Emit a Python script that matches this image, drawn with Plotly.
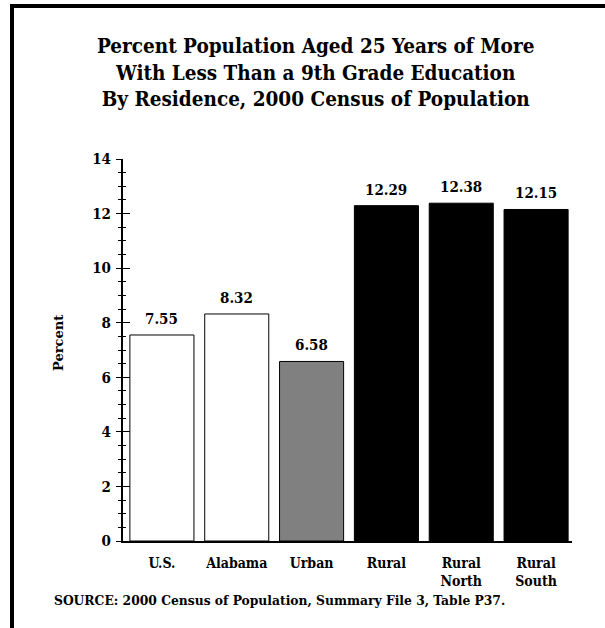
import plotly.graph_objects as go

# Data
categories = ["U.S.", "Alabama", "Urban", "Rural", "Rural<br>North", "Rural<br>South"]
values = [7.55, 8.32, 6.58, 12.29, 12.38, 12.15]
bar_colors = ["white", "white", "#808080", "black", "black", "black"]
y_ticks = [0, 2, 4, 6, 8, 10, 12, 14]

title_lines = [
    "Percent Population Aged 25 Years of More",
    "With Less Than a 9th Grade Education",
    "By Residence, 2000 Census of Population",
]
source_text = "SOURCE: 2000 Census of Population, Summary File 3, Table P37."

SERIF = "DejaVu Serif Condensed, DejaVu Serif, serif"
WIDE_SERIF = "DejaVu Serif, serif"

W, H = 605, 628
L, R, T, B = 123, 33, 159, 87
pw, ph = W - L - R, H - T - B


def px(x):
    return (x - L) / pw


def py(y):
    return (H - B - y) / ph


fig = go.Figure()
fig.add_trace(go.Bar(
    x=list(range(len(categories))),
    y=values,
    marker=dict(color=bar_colors, line=dict(color="black", width=1)),
    width=0.856,
    hoverinfo="skip",
))

# Value labels above each bar
for i, v in enumerate(values):
    fig.add_annotation(
        x=i, y=v, text=f"{v:.2f}", showarrow=False,
        yanchor="bottom", yshift=5,
        font=dict(family=SERIF, size=15, color="black", weight="bold"),
    )

# Title
fig.add_annotation(
    x=px(315), y=py(32), xref="paper", yref="paper",
    text="<br>".join(title_lines), showarrow=False,
    xanchor="center", yanchor="top", align="center",
    font=dict(family=SERIF, size=20.5, color="black", weight="bold"),
)

# Source note
fig.add_annotation(
    x=px(52), y=py(600), xref="paper", yref="paper",
    text=source_text, showarrow=False,
    xanchor="left", yanchor="middle", align="left",
    font=dict(family=SERIF, size=13.7, color="black", weight="bold"),
)

# Y-axis title
fig.add_annotation(
    x=px(58), y=py(343), xref="paper", yref="paper",
    text="Percent", showarrow=False, textangle=-90,
    xanchor="center", yanchor="middle",
    font=dict(family=WIDE_SERIF, size=13, color="black", weight="bold"),
)

# Frame (top and left edges)
fig.add_shape(type="line", xref="paper", yref="paper",
              x0=px(10), x1=px(W + 5), y0=py(6), y1=py(6),
              line=dict(color="black", width=4))
fig.add_shape(type="line", xref="paper", yref="paper",
              x0=px(12), x1=px(12), y0=py(4), y1=py(H + 5),
              line=dict(color="black", width=4))

fig.update_layout(
    width=W, height=H,
    margin=dict(l=L, r=R, t=T, b=B, pad=0),
    paper_bgcolor="white", plot_bgcolor="white",
    showlegend=False,
    xaxis=dict(
        range=[-0.52, 5.48],
        tickmode="array",
        tickvals=list(range(len(categories))),
        ticktext=categories,
        ticks="",
        showgrid=False, zeroline=False,
        showline=True, linecolor="black", linewidth=2,
        tickfont=dict(family=SERIF, size=14, color="black", weight="bold"),
        ticklabelstandoff=8,
    ),
    yaxis=dict(
        range=[0, 14],
        tickmode="array", tickvals=y_ticks,
        ticks="outside", ticklen=5, tickwidth=1, tickcolor="black",
        minor=dict(dtick=0.5, ticks="outside", ticklen=3, tickwidth=1, tickcolor="black"),
        showgrid=False, zeroline=False,
        showline=True, linecolor="black", linewidth=2,
        tickfont=dict(family=SERIF, size=15, color="black", weight="bold"),
        ticklabelstandoff=2,
    ),
    yaxis2=dict(
        overlaying="y", matches="y", side="left",
        range=[0, 14],
        tickmode="array", tickvals=y_ticks,
        ticks="inside", ticklen=7, tickwidth=1, tickcolor="black",
        minor=dict(dtick=0.5, ticks="inside", ticklen=3, tickwidth=1, tickcolor="black"),
        showticklabels=False, showgrid=False, zeroline=False, showline=False,
    ),
)

# Invisible trace to bring the secondary y-axis into existence
fig.add_trace(go.Scatter(x=[0], y=[0], yaxis="y2", mode="markers",
                         marker=dict(opacity=0), hoverinfo="skip", showlegend=False))

fig.write_html("out.html")
